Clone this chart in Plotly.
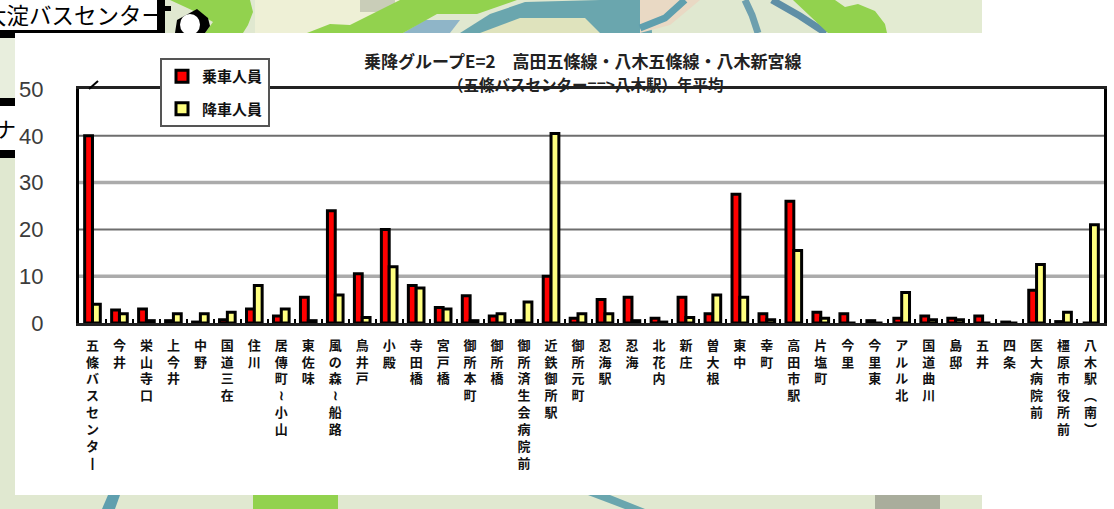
import plotly.graph_objects as go

W, H = 1114, 509

title_lines = ["乗降グループE=2　高田五條線・八木五條線・八木新宮線", "（五條バスセンター==>八木駅）年平均"]
series_names = ["乗車人員", "降車人員"]
stops = ["五條バスセンター", "今井", "栄山寺口", "上今井", "中野", "国道三在", "住川", "居傳町~小山", "東佐味",
         "風の森~船路", "鳥井戸", "小殿", "寺田橋", "宮戸橋", "御所本町", "御所橋", "御所済生会病院前",
         "近鉄御所駅", "御所元町", "忍海駅", "忍海", "北花内", "新庄", "曽大根", "東中", "幸町", "高田市駅",
         "片塩町", "今里", "今里東", "アルル北", "国道曲川", "島邸", "五井", "四条", "医大病院前",
         "橿原市役所前", "八木駅（南）"]
boarding = [40, 2.8, 3, 0.5, 0.2, 0.7, 3, 1.5, 5.5, 24, 10.5, 20, 8, 3.3, 5.8, 1.5, 0.5, 10, 1, 5, 5.5, 1,
            5.5, 2, 27.5, 2, 26, 2.3, 2, 0.5, 1, 1.5, 1, 1.5, 0.2, 7, 0.3, 0]
alighting = [4, 2, 0.5, 2, 2, 2.3, 8, 3, 0.5, 6, 1.2, 12, 7.5, 3, 0.5, 2, 4.5, 40.5, 2, 2, 0.5, 0.2,
             1.2, 6, 5.5, 0.7, 15.5, 1, 0, 0, 6.5, 0.7, 0.7, 0, 0, 12.5, 2.3, 21]
y_ticks = [0, 10, 20, 30, 40, 50]
grid_dark = [20, 40]
grid_light = [10, 30]


def vertical(s):
    repl = {"ー": "丨", "~": "≀", "（": "︵", "）": "︶"}
    return "<br>".join(repl.get(c, c) for c in s)


def px(x):
    return x / W


def py(y):
    return 1 - y / H


def rect(x0, y0, x1, y1, color):
    return dict(type="rect", xref="paper", yref="paper", x0=px(x0), x1=px(x1), y0=py(y0), y1=py(y1),
                fillcolor=color, line_width=0, layer="below")


def poly(points, color):
    d = "M" + " L".join(f"{px(x):.5f},{py(y):.5f}" for x, y in points) + " Z"
    return dict(type="path", xref="paper", yref="paper", path=d, fillcolor=color, line_width=0, layer="below")


def stroke(points, color, w):
    d = "M" + " L".join(f"{px(x):.5f},{py(y):.5f}" for x, y in points)
    return dict(type="path", xref="paper", yref="paper", path=d, line=dict(color=color, width=w), layer="below")


GREEN = "#92d24e"
TEAL = "#5f9fae"
MAP = "#e0e8d0"

shapes = [
    rect(0, 0, 982, 33, MAP),
    rect(0, 33, 15, 509, MAP),
    rect(0, 495, 982, 509, MAP),
    rect(255, 0, 400, 33, "#eef0d6"),
    rect(830, 0, 982, 33, "#e3ebd2"),
    rect(0, 38, 15, 98, "#e8eedd"),
    rect(360, 0, 395, 12, "#c9cdb8"),
    poly([(460, 33), (490, 14), (525, 2), (600, 0), (650, 0), (652, 33)], "#6aa6ae"),
    poly([(480, 33), (520, 18), (585, 18), (600, 33)], "#dfe3bd"),
    poly([(403, 33), (425, 20), (460, 20), (450, 33)], "#8fb5c8"),
    poly([(640, 0), (700, 0), (670, 25), (640, 33)], "#e9d9c4"),
    stroke([(640, 28), (665, 18), (685, 0)], TEAL, 7),
    stroke([(745, 0), (752, 15), (758, 33)], "#6d9fae", 7),
    stroke([(772, 0), (800, 16), (826, 33)], "#5f8fa6", 7),
    poly([(170, 0), (250, 0), (253, 12), (248, 25), (243, 33), (205, 33), (213, 22), (196, 12)], GREEN),
    poly([(307, 33), (330, 24), (350, 25), (400, 0), (517, 0), (477, 14), (437, 14), (403, 33)], GREEN),
    poly([(793, 0), (835, 0), (845, 7), (858, 4), (875, 11), (885, 24), (887, 33), (828, 33)], GREEN),
    poly([(253, 495), (338, 495), (338, 509), (253, 509)], GREEN),
    poly([(108, 495), (120, 495), (115, 509), (102, 509)], TEAL),
    poly([(588, 495), (610, 495), (645, 509), (625, 509)], "#6aa6ae"),
    rect(875, 495, 940, 509, "#a9ad9c"),
    rect(0, 0, 157, 30, "#ffffff"),
    rect(0, 30, 165, 33, "#000000"),
    rect(157, 0, 165, 33, "#000000"),
    rect(157, 6, 171, 11, "#000000"),
    poly([(175, 33), (177, 20), (197, 9), (208, 18), (210, 26), (205, 33)], "#000000"),
    dict(type="circle", xref="paper", yref="paper", x0=px(180), x1=px(200), y0=py(35), y1=py(14),
         fillcolor="#ffffff", line_width=0, layer="below"),
    rect(0, 33, 15, 38, "#000000"),
    rect(0, 98, 15, 106, "#000000"),
    rect(0, 106, 15, 150, "#ffffff"),
    rect(0, 150, 15, 158, "#000000"),
    rect(15, 33, 1114, 495, "#ffffff"),
    rect(982, 0, 1114, 33, "#ffffff"),
    rect(982, 495, 1114, 509, "#ffffff"),
    dict(type="line", xref="paper", yref="paper", x0=px(89), x1=px(98), y0=py(89), y1=py(81),
         line=dict(color="#000000", width=2)),
]
for v in grid_dark:
    shapes.append(dict(type="line", xref="x domain", yref="y", x0=0, x1=1, y0=v, y1=v,
                       line=dict(color="#6e6e6e", width=2), layer="below"))
for v in grid_light:
    shapes.append(dict(type="line", xref="x domain", yref="y", x0=0, x1=1, y0=v, y1=v,
                       line=dict(color="#ababab", width=3.5), layer="below"))

fig = go.Figure()
for name, vals, col, grp in [(series_names[0], boarding, "#ff0000", "a"), (series_names[1], alighting, "#ffff80", "b")]:
    fig.add_trace(go.Bar(x=stops, y=vals, name=name, legendgroup=grp,
                         marker=dict(color=col, line=dict(color="#000000", width=3))))

FONT = "Noto Sans CJK JP"
ann = [
    dict(text=title_lines[0], x=px(583), y=py(60), size=17, color="#222222"),
    dict(text=title_lines[1], x=px(585), y=py(84), size=15.5, color="#222222"),
]
annotations = [dict(xref="paper", yref="paper", x=a["x"], y=a["y"], text=a["text"], showarrow=False,
                    xanchor="center", yanchor="middle",
                    font=dict(family=FONT, size=a["size"], color=a["color"], weight=700))
               for a in ann]
annotations += [
    dict(xref="paper", yref="paper", x=px(166), y=py(14), text="大淀バスセンター", showarrow=False,
         xanchor="right", yanchor="middle", font=dict(family=FONT, size=22.5, color="#000000")),
    dict(xref="paper", yref="paper", x=px(18), y=py(128), text="ナ", showarrow=False,
         xanchor="right", yanchor="middle", font=dict(family=FONT, size=21, color="#000000")),
]

fig.update_layout(
    width=W, height=H, margin=dict(l=0, r=0, t=0, b=0),
    paper_bgcolor="#ffffff", plot_bgcolor="rgba(0,0,0,0)",
    barmode="group", bargap=0.42, bargroupgap=0,
    shapes=shapes, annotations=annotations,
    legend=dict(x=px(160), y=py(58), xanchor="left", yanchor="top", bgcolor="#ffffff",
                bordercolor="#555555", borderwidth=2, tracegroupgap=10, traceorder="grouped",
                entrywidth=84, entrywidthmode="pixels",
                font=dict(family=FONT, size=15, color="#111111", weight=700), itemclick=False),
    xaxis=dict(domain=[px(79), px(1104)], tickmode="array", tickvals=stops,
               ticktext=[vertical(s) for s in stops], tickangle=0, ticks="inside", ticklen=4, tickwidth=1.5,
               tickcolor="#000000", tickson="boundaries", ticklabelstandoff=8, automargin=False,
               showline=True, linecolor="#222222", linewidth=3, mirror=True, showgrid=False,
               tickfont=dict(family=FONT, size=13, color="#111111", weight=700)),
    yaxis=dict(domain=[py(323), py(89)], range=[0, 50], tickvals=y_ticks, ticks="", ticklabelstandoff=28,
               automargin=False, showline=True, linecolor="#000000", linewidth=3, mirror=True, showgrid=False,
               zeroline=False, tickfont=dict(family="Liberation Sans", size=22, color="#3c3c3c")),
)

fig.write_html("out.html", config=dict(displayModeBar=False),
               post_script="document.body.style.margin='0';document.body.style.overflow='hidden';")
